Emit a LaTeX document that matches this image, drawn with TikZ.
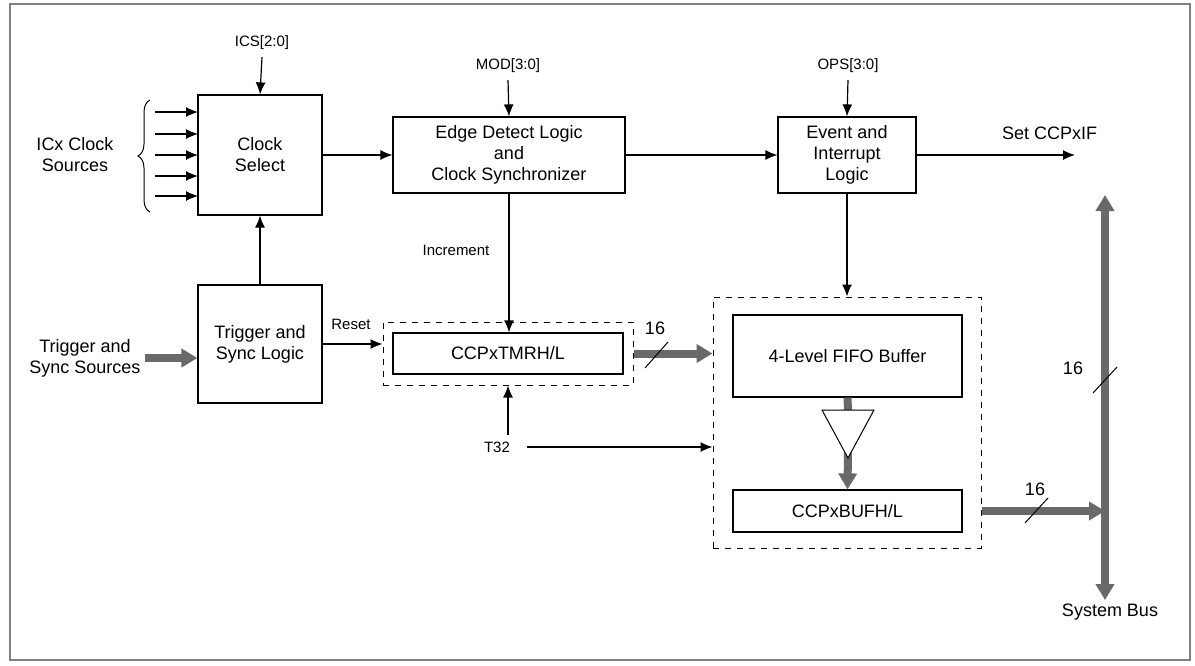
\documentclass[tikz,border=0pt]{standalone}
\usepackage{fontspec}
\setmainfont{Liberation Sans}
\usetikzlibrary{arrows.meta,decorations.pathreplacing}
\definecolor{bus}{RGB}{105,105,105}
\begin{document}
\begin{tikzpicture}[x=0.5pt,y=-0.5pt,
  blk/.style={draw,line width=0.6pt,align=center,font=\fontsize{9}{10.5}\selectfont,inner sep=0},
  lbl/.style={font=\fontsize{7.5}{9}\selectfont,align=center},
  big/.style={font=\fontsize{9}{10.5}\selectfont,align=center},
  ar/.style={-{Latex[length=6pt,width=5pt]},line width=0.6pt},
  thick bus/.style={draw=bus,line width=4pt,-{Triangle[length=8pt,width=9pt]}},
  dbox/.style={draw,dashed,line width=0.5pt}]
\useasboundingbox (0,0) rectangle (1195,665);
\draw[gray,line width=0.6pt] (10,4) rectangle (1190,660);
% blocks
\node[blk,minimum width=62pt,minimum height=60pt] (cs) at (260,155) {Clock\\Select};
\node[blk,minimum width=116pt,minimum height=38pt] (ed) at (509,155) {Edge Detect Logic\\and\\Clock Synchronizer};
\node[blk,minimum width=69pt,minimum height=38pt] (ev) at (847,155) {Event and\\Interrupt\\Logic};
\node[blk,minimum width=62pt,minimum height=59pt] (tr) at (260,344) {Trigger and\\Sync Logic};
\node[blk,minimum width=115pt,minimum height=20.5pt] (tmr) at (508,353.5) {CCPxTMRH/L};
\node[blk,minimum width=114.5pt,minimum height=41pt] (fifo) at (847.5,356) {4-Level FIFO Buffer};
\node[blk,minimum width=114.5pt,minimum height=21pt] (buf) at (847.5,511) {CCPxBUFH/L};
\node[dbox,minimum width=125pt,minimum height=31.5pt] (tmrd) at (508,353.5) {};
\node[dbox,minimum width=134pt,minimum height=125.5pt] (fd) at (847,422.5) {};
% labels
\node[lbl] (ics) at (262,43) {ICS[2:0]};
\node[lbl] (mod) at (508,66) {MOD[3:0]};
\node[lbl] (ops) at (848,66) {OPS[3:0]};
\node[big] (icx) at (75,155) {ICx Clock\\Sources};
\node[big] (trs) at (85,358) {Trigger and\\Sync Sources};
\node[big,anchor=west] (set) at (995,133) {Set CCPxIF};
\node[lbl] (inc) at (456,250) {Increment};
\node[lbl] (rst) at (351,324) {Reset};
\node[lbl] (t32) at (497,447) {T32};
\node[big] (n1) at (655,328) {16};
\node[big] (n2) at (1035,489) {16};
\node[big] (n3) at (1073,368) {16};
\node[big] (sb) at (1110,612) {System Bus};
\coordinate (setend) at (1075,155);
% arrows
\draw[ar] (ics.south) -- (cs.north);
\draw[ar] (mod.south) -- (ed.north);
\draw[ar] (ops.south) -- (ev.north);
\draw[ar] (cs.east) -- (ed.west);
\draw[ar] (ed.east) -- (ev.west);
\draw[ar] (ev.east) -- (setend);
\draw[ar] (ev.south) -- (fd.north-|ev.south);
\draw[ar] (ed.south) -- (tmr.north-|ed.south);
\draw[ar] (tr.north) -- (cs.south);
\draw[ar] (tr.east) -- (tmrd.west|-tr.east);
\draw[ar] (508,435) -- (tmrd.south-|tmr.south);
\draw[ar] (t32.east) ++(10,0) -- (fd.west|-t32.east);
\foreach \y in {112,134,155,176,196} \draw[ar] (155,\y) -- (198,\y);
\draw[line width=0.5pt,decorate,decoration={brace,amplitude=6pt}] (150,212) -- (150,100);
% bus arrows
\draw[thick bus] (145,358) -- (tr.west|-0,358);
\draw[thick bus] (tmrd.east) -- (fd.west|-tmrd.east);
\draw[line width=0.5pt] (645,368) -- (668,342);
\coordinate (busx) at (1105,511);
\draw[thick bus] (fd.east|-buf.east) -- (busx);
\draw[line width=0.5pt] (1025,523) -- (1048,498);
\draw[draw=bus,line width=4pt,{Triangle[length=8pt,width=9pt]}-{Triangle[length=8pt,width=9pt]}] (1105,195) -- (1105,600);
\draw[line width=0.5pt] (1093,393) -- (1117,367);
% triangle buffer
\coordinate (tl) at (822,410); \coordinate (tr2) at (874,410); \coordinate (tap) at (848,458);
\draw[draw=bus,line width=4pt] (fifo.south) -- (848,410);
\draw[thick bus] (848,450) -- (buf.north);
\draw[line width=0.5pt,fill=white] (tl) -- (tr2) -- (tap) -- cycle;
\end{tikzpicture}
\end{document}
